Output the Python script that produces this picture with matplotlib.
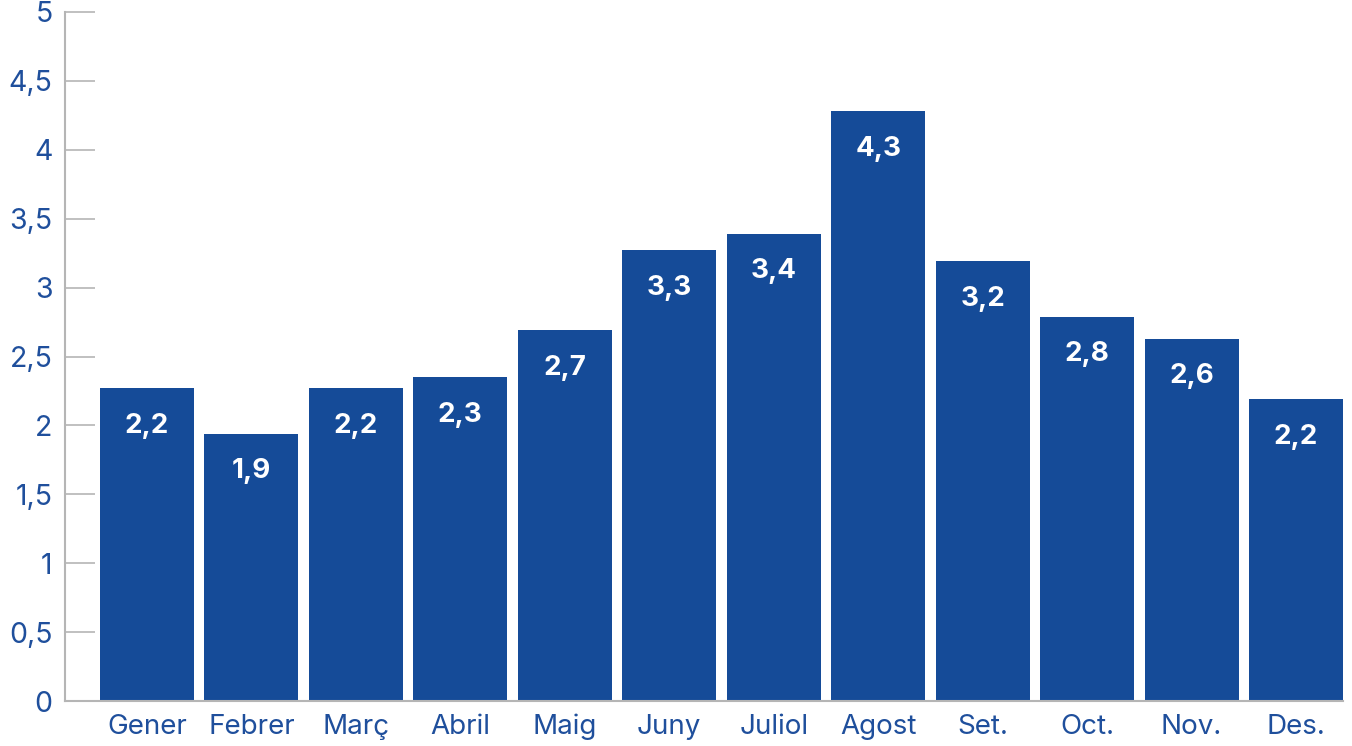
import matplotlib.pyplot as plt
import numpy as np

# Dades
mesos = ['Gener', 'Febrer', 'Març', 'Abril', 'Maig', 'Juny', 'Juliol',
         'Agost', 'Set.', 'Oct.', 'Nov.', 'Des.']
valors = [2.27, 1.94, 2.27, 2.35, 2.69, 3.27, 3.39, 4.28, 3.19, 2.79, 2.63, 2.19]
etiquetes = ['2,2', '1,9', '2,2', '2,3', '2,7', '3,3', '3,4', '4,3', '3,2', '2,8', '2,6', '2,2']
yticks = [0, 0.5, 1, 1.5, 2, 2.5, 3, 3.5, 4, 4.5, 5]
ytick_labels = ['0', '0,5', '1', '1,5', '2', '2,5', '3', '3,5', '4', '4,5', '5']

blau_barra = '#154b98'
blau_text = '#1f4f9c'
gris = '#b5b5b5'

plt.rcParams['font.family'] = ['Inter', 'DejaVu Sans']

fig = plt.figure(figsize=(13.52, 7.46), dpi=100)
ax = fig.add_axes([65 / 1352, 45 / 746, 1278 / 1352, 689 / 746])

x = np.arange(len(mesos))
barres = ax.bar(x, valors, width=0.9, color=blau_barra, zorder=2)

for xi, v, lab in zip(x, valors, etiquetes):
    ax.annotate(lab, (xi, v), xytext=(0, -27), textcoords='offset points',
                ha='center', va='center', color='white', fontsize=20,
                fontweight='bold')

ax.set_xlim(-0.785, 11.45)
ax.set_ylim(0, 5)
ax.set_xticks(x)
ax.set_xticklabels(mesos, fontsize=20, color=blau_text)
ax.set_yticks(yticks)
ax.set_yticklabels(ytick_labels, fontsize=20.5, color=blau_text)

ax.tick_params(axis='x', length=0, pad=9)
ax.tick_params(axis='y', direction='in', length=21.6, width=1.2, color=gris, pad=9)

for lado in ['top', 'right']:
    ax.spines[lado].set_visible(False)
ax.spines['left'].set_color(gris)
ax.spines['bottom'].set_color(gris)
ax.spines['left'].set_linewidth(1.5)
ax.spines['bottom'].set_linewidth(1.5)

plt.savefig('out.png', dpi=100)
